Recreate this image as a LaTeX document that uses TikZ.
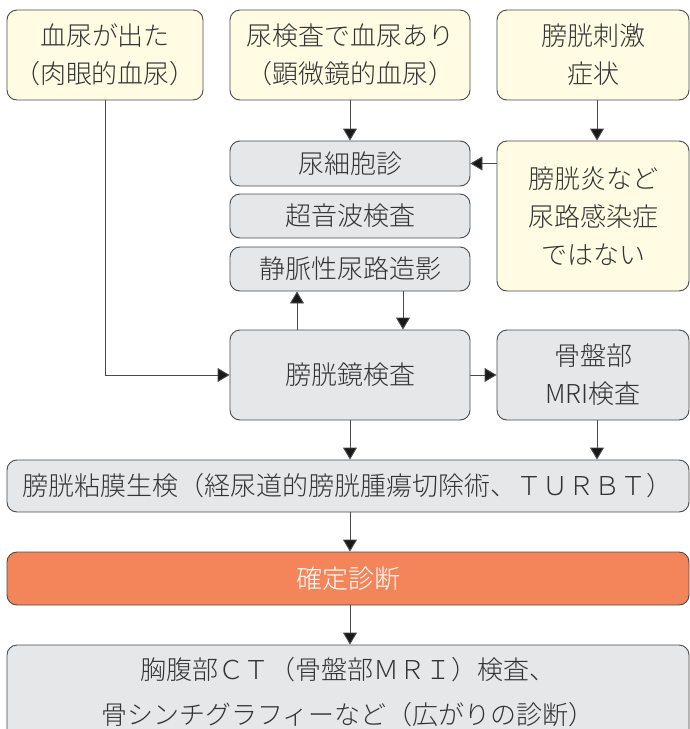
\documentclass[tikz,border=0pt]{standalone}
\usepackage{fontspec}
\setmainfont{Noto Sans CJK JP Light}
\usetikzlibrary{arrows.meta,calc}
\definecolor{ylw}{HTML}{FFFCE3}
\definecolor{gry}{HTML}{E6E7E9}
\definecolor{org}{HTML}{F4855A}
\definecolor{bdr}{HTML}{4A4A4A}
\definecolor{txt}{HTML}{333333}
\tikzset{
  box/.style={draw=bdr, line width=0.9pt, rounded corners=10pt, inner sep=0pt,
    align=center, text=txt, font=\fontsize{26}{38}\selectfont},
  ybox/.style={box, fill=ylw},
  gbox/.style={box, fill=gry},
  obox/.style={box, fill=org, text=white},
  arr/.style={draw=bdr, line width=0.9pt, -{Triangle[width=14pt,length=12pt,fill=black!90]}},
}
\begin{document}
\begin{tikzpicture}[x=1pt,y=-1pt]
\useasboundingbox (0,0) rectangle (690,729);
\node[ybox, minimum width=196pt, minimum height=90pt] (b1) at (105,55) {血尿が出た\\（肉眼的血尿）};
\node[ybox, minimum width=240pt, minimum height=90pt] (b2) at (350,55) {尿検査で血尿あり\\（顕微鏡的血尿）};
\node[ybox, minimum width=192pt, minimum height=90pt] (b3) at (593,55) {膀胱刺激\\症状};
\node[gbox, minimum width=240pt, minimum height=45pt] (cyto) at (350,163.5) {尿細胞診};
\node[gbox, minimum width=240pt, minimum height=44pt] (us) at (350,216) {超音波検査};
\node[gbox, minimum width=240pt, minimum height=44pt] (ivp) at (350,269) {静脈性尿路造影};
\node[ybox, minimum width=192pt, minimum height=150pt] (cyst) at (593,216) {膀胱炎など\\尿路感染症\\ではない};
\node[gbox, minimum width=240pt, minimum height=90pt] (scope) at (350,375) {膀胱鏡検査};
\node[gbox, minimum width=192pt, minimum height=90pt] (mri) at (593,375) {骨盤部\\MRI検査};
\node[gbox, minimum width=682pt, minimum height=52pt] (bx) at (348,486) {膀胱粘膜生検（経尿道的膀胱腫瘍切除術、ＴＵＲＢＴ）};
\node[obox, minimum width=682pt, minimum height=53pt] (dx) at (348,578.5) {確定診断};
\node[gbox, minimum width=682pt, minimum height=95pt, font=\fontsize{26}{45}\selectfont] (fin) at (348,692.5) {胸腹部ＣＴ（骨盤部ＭＲＩ）検査、\\骨シンチグラフィーなど（広がりの診断）};
% connectors
\draw[arr] (b2.south) -- (cyto.north);
\draw[arr] ([xshift=4pt]b3.south) -- ([xshift=4pt]cyst.north);
\draw[arr] (cyst.west |- cyto.east) -- (cyto.east);
\draw[arr] ([xshift=-53pt]scope.north) -- ([xshift=-53pt]ivp.south);
\draw[arr] ([xshift=53pt]ivp.south) -- ([xshift=53pt]scope.north);
\draw[arr] (b1.south) |- (scope.west);
\draw[arr] (scope.east) -- (mri.west);
\draw[arr] (scope.south) -- (scope.south |- bx.north);
\draw[arr] ([xshift=4pt]mri.south) -- ([xshift=4pt]mri.south |- bx.north);
\draw[arr] (scope.south |- bx.south) -- (scope.south |- dx.north);
\draw[arr] (scope.south |- dx.south) -- (scope.south |- fin.north);
\end{tikzpicture}
\end{document}
